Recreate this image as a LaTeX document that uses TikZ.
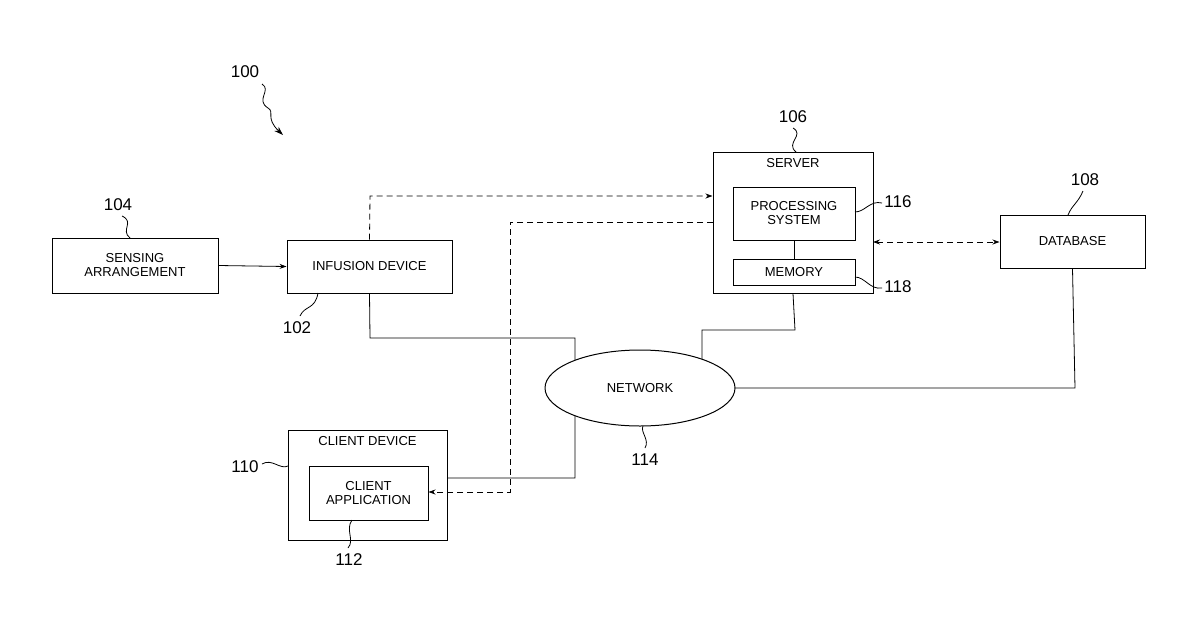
\documentclass[tikz,border=0pt]{standalone}
\usepackage{fontspec}
\setmainfont{Liberation Sans}
\usetikzlibrary{arrows.meta,shapes.geometric}
\begin{document}
\begin{tikzpicture}[x=1pt,y=-1pt,
  box/.style={draw,line width=1pt,fill=white},
  txt/.style={font=\fontsize{13}{14}\selectfont,align=center,inner sep=0pt},
  ref/.style={font=\fontsize{17}{18}\selectfont,inner sep=0pt},
  conn/.style={line width=0.8pt},
  dconn/.style={line width=0.8pt,dash pattern=on 6pt off 4pt},
  tip/.style={-{Stealth[length=7pt,width=5pt]}}]
\useasboundingbox (0,0) rectangle (1200,630);
% boxes
\node[box,minimum width=166pt,minimum height=55pt] (sens) at (135,265.5) {};
\node[txt] at (sens) {SENSING\\ARRANGEMENT};
\node[box,minimum width=165pt,minimum height=53pt] (inf) at (369.5,266.5) {};
\node[txt] at (inf) {INFUSION DEVICE};
\node[box,minimum width=160pt,minimum height=141pt] (srv) at (793,222.5) {};
\node[txt] at (793,163) {SERVER};
\node[box,minimum width=122pt,minimum height=53pt] (proc) at (794,213.5) {};
\node[txt] at (proc) {PROCESSING\\SYSTEM};
\node[box,minimum width=122pt,minimum height=26pt] (mem) at (794,272) {};
\node[txt] at (mem) {MEMORY};
\node[box,minimum width=145pt,minimum height=53pt] (db) at (1072.5,241.5) {};
\node[txt] at (db) {DATABASE};
\node[box,minimum width=159pt,minimum height=110pt] (cli) at (367.5,485) {};
\node[txt] at (367.5,441) {CLIENT DEVICE};
\node[box,minimum width=119pt,minimum height=54pt] (app) at (368.5,493) {};
\node[txt] at (app) {CLIENT\\APPLICATION};
\draw[conn] (proc.south) -- (mem.north);
% solid connectors
\coordinate (c1) at (575,478);
\draw[conn] (inf.south) -- (370,338) -- (575,338) -- (c1) -- (cli.east |- c1);
\draw[conn] (srv.south) -- (795,330) -- (702,330) -- (702,380);
\draw[conn] (db.south) -- (1075,388) -- (700,388);
\draw[conn,tip] (sens.east) -- (inf.west);
% dashed
\coordinate (d1) at (370,196);
\draw[dconn,tip] (inf.north) -- (d1) -- (d1 -| srv.west);
\coordinate (d2) at (713,222);
\coordinate (d3) at (510,492);
\draw[dconn,tip] (d2) -- (510,222) -- (d3) -- (app.east |- d3);
\coordinate (d4) at (873,242);
\draw[dconn,{Stealth[length=7pt,width=5pt]}-{Stealth[length=7pt,width=5pt]}] (d4) -- (db.west |- d4);
% network
\node[draw,line width=1pt,fill=white,ellipse,minimum width=190pt,minimum height=76pt,inner sep=0pt] (net) at (640,388) {};
\node[txt] at (net) {NETWORK};
% reference labels
\node[ref] (r100) at (245,72) {100};
\draw[conn,-{Stealth[length=9pt,width=6pt]}] (262,84) .. controls (272,90) and (255,100) .. (268,108) .. controls (275,112) and (265,118) .. (283,135);
\node[ref] (r104) at (118,205) {104};
\draw[conn] (122,216) .. controls (135,222) and (120,230) .. (130,238);
\node[ref] (r106) at (793,117) {106};
\draw[conn] (793,128) .. controls (805,135) and (785,143) .. (796,152);
\node[ref] (r108) at (1085,180) {108};
\draw[conn] (1083,191) .. controls (1078,203) and (1072,205) .. (1068,215);
\node[ref] (r116) at (898,202) {116};
\draw[conn] (855,212) .. controls (865,212) and (870,200) .. (882,203);
\node[ref] (r118) at (898,287) {118};
\draw[conn] (855,277) .. controls (865,277) and (870,290) .. (882,288);
\node[ref] (r102) at (297,328) {102};
\draw[conn] (300,316) .. controls (305,305) and (315,310) .. (318,293);
\node[ref] (r110) at (245,467) {110};
\draw[conn] (262,464) .. controls (272,458) and (280,470) .. (288,466);
\node[ref] (r112) at (349,560) {112};
\draw[conn] (348,548) .. controls (355,540) and (345,530) .. (352,520);
\node[ref] (r114) at (645,460) {114};
\draw[conn] (645,448) .. controls (650,440) and (640,432) .. (643,426);
\end{tikzpicture}
\end{document}
